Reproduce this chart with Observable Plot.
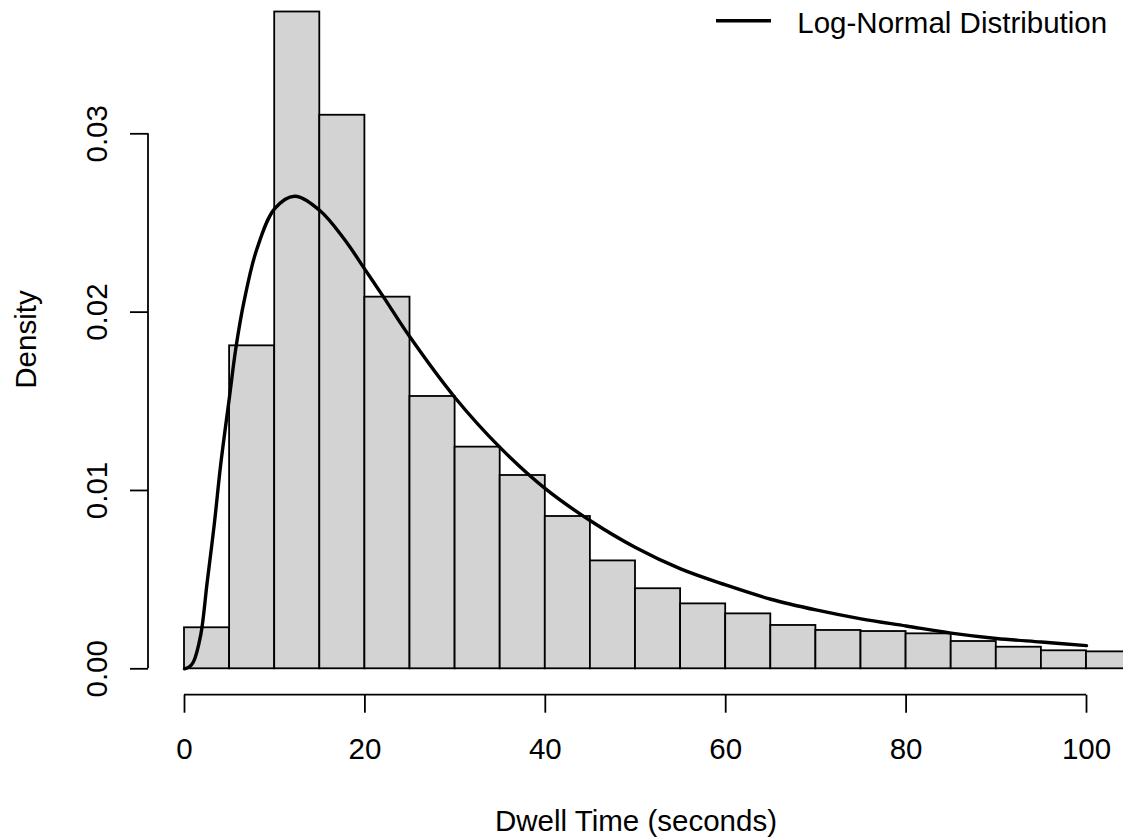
<!DOCTYPE html>
<html>
<head>
<meta charset="utf-8">
<script src="https://cdn.jsdelivr.net/npm/d3@7"></script>
<script src="https://cdn.jsdelivr.net/npm/@observablehq/plot@0.6"></script>
<style>
  html, body { margin: 0; padding: 0; background: #ffffff; }
  #chart { width: 1123px; height: 838px; overflow: hidden; }
</style>
</head>
<body>
<div id="chart"></div>
<script>
// Histogram bins (Dwell Time, seconds) and their densities
const binStart = [0, 5, 10, 15, 20, 25, 30, 35, 40, 45, 50, 55, 60, 65, 70, 75, 80, 85, 90, 95, 100];
const binWidth = 5;
const binDensity = [0.0023, 0.01811, 0.03683, 0.03104, 0.02084, 0.01527, 0.01243, 0.01084, 0.00854, 0.00605,
                    0.00449, 0.00364, 0.00308, 0.00243, 0.00215, 0.00209, 0.00196, 0.00153, 0.00121, 0.00101, 0.00095];

// Fitted log-normal density curve
const curveX = [0, 0.5, 1, 1.8, 2.5, 3.3, 4, 5, 5.7, 6.6, 8, 10, 12.2, 15, 17.7, 20, 22, 25, 30, 35, 40,
                45, 50, 55, 60, 65, 70, 75, 80, 85, 90, 95, 100];
const curveY = [0, 0.0001, 0.0004, 0.0019, 0.0048, 0.0081, 0.0114, 0.0153, 0.0180, 0.0206, 0.0235, 0.0258, 0.0265,
                0.0257, 0.0241, 0.0224, 0.0209, 0.0186, 0.0152, 0.0124, 0.0101, 0.0083, 0.0068, 0.0056, 0.0047,
                0.0039, 0.0033, 0.0028, 0.0024, 0.0020, 0.0017, 0.0015, 0.0013];

const xTicks = [0, 20, 40, 60, 80, 100];
const yTicks = [0, 0.01, 0.02, 0.03];
const yTickLabels = ["0.00", "0.01", "0.02", "0.03"];

const xLabel = "Dwell Time (seconds)";
const yLabel = "Density";
const legendLabel = "Log-Normal Distribution";

const bars = binStart.map((s, i) => ({x1: s, x2: s + binWidth, density: binDensity[i]}));
const curve = curveX.map((x, i) => ({x, y: curveY[i]}));
const yLabelRows = yTicks.map((v, i) => ({v, label: yTickLabels[i]}));

const W = 1123, H = 838;
const FONT = "'Liberation Sans', Arial, Helvetica, sans-serif";
const FS = 29.5;
const LW = 1.8;

// x-axis baseline line and y-axis line (R style detached axes)
const axisLines = (index, scales, values, dims) => {
  const g = d3.create("svg:g").attr("stroke", "black").attr("stroke-width", LW).attr("fill", "none");
  const yb = dims.height - dims.marginBottom;
  g.append("line")
    .attr("x1", scales.x(xTicks[0])).attr("x2", scales.x(xTicks[xTicks.length - 1]))
    .attr("y1", yb).attr("y2", yb);
  g.append("line")
    .attr("x1", dims.marginLeft).attr("x2", dims.marginLeft)
    .attr("y1", scales.y(yTicks[0])).attr("y2", scales.y(yTicks[yTicks.length - 1]));
  return g.node();
};

// legend at top-right
const legend = (index, scales, values, dims) => {
  const g = d3.create("svg:g");
  g.append("line")
    .attr("x1", 716).attr("x2", 771).attr("y1", 20.7).attr("y2", 20.7)
    .attr("stroke", "black").attr("stroke-width", 3.4);
  g.append("text")
    .attr("x", 797.3).attr("y", 32.7)
    .attr("fill", "black")
    .attr("text-anchor", "start")
    .style("font-family", FONT).style("font-size", FS + "px")
    .text(legendLabel);
  return g.node();
};

const chart = Plot.plot({
  width: W,
  height: H,
  marginLeft: 148,
  marginRight: 0,
  marginTop: 0,
  marginBottom: H - 694.7,
  style: {fontFamily: FONT, fontSize: FS + "px", background: "#ffffff", color: "black"},
  x: {domain: [0, 100], range: [184, 1086]},
  y: {domain: [0, 0.03], range: [668.3, 133.3]},
  marks: [
    Plot.rectY(bars, {x1: "x1", x2: "x2", y: "density", fill: "#D3D3D3", stroke: "black", strokeWidth: LW}),
    Plot.line(curve, {x: "x", y: "y", stroke: "black", strokeWidth: 3.4, curve: "catmull-rom"}),
    Plot.axisX({ticks: xTicks, tickSize: 18, tickPadding: 25, strokeWidth: LW, fontSize: FS, label: null,
                tickFormat: d => String(d)}),
    Plot.axisY({ticks: yTicks, tickSize: 18, strokeWidth: LW, label: null, tickFormat: () => ""}),
    Plot.text(yLabelRows, {y: "v", text: "label", frameAnchor: "left", dx: -51, rotate: -90,
                           textAnchor: "middle", lineAnchor: "middle", fontSize: FS, fill: "black"}),
    Plot.text([yLabel], {frameAnchor: "left", dx: -122.4, dy: -8.3, rotate: -90,
                         textAnchor: "middle", lineAnchor: "middle", fontSize: FS, fill: "black"}),
    Plot.text([xLabel], {frameAnchor: "bottom", dy: 125.9, textAnchor: "middle", lineAnchor: "middle",
                         fontSize: FS, fill: "black"}),
    axisLines,
    legend
  ]
});
document.getElementById("chart").appendChild(chart);
</script>
</body>
</html>
